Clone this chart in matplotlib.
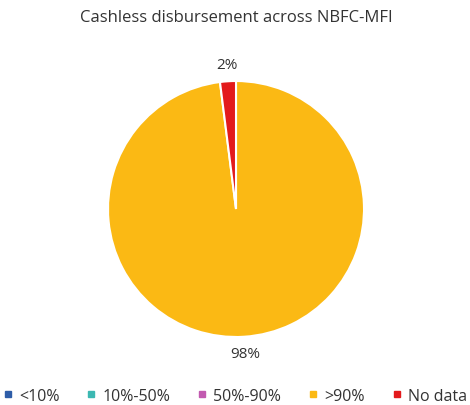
import matplotlib.pyplot as plt
from matplotlib.lines import Line2D

# Data
categories = ['<10%', '10%-50%', '50%-90%', '>90%', 'No data']
shares = [0, 0, 0, 98, 2]
colors = ['#2E5DA8', '#3CB8B2', '#C25AB0', '#FBB914', '#E31A1C']
title = 'Cashless disbursement across NBFC-MFI'

plt.rcParams['font.family'] = ['Open Sans', 'DejaVu Sans']

fig = plt.figure(figsize=(4.7, 4.06), dpi=100)
ax = fig.add_axes([0.2298, 0.1675, 0.5447, 0.6305])

ax.pie(shares, colors=colors, startangle=90, counterclock=False,
       radius=1.0, autopct=lambda p: f'{p:.0f}%' if p > 0 else '',
       pctdistance=1.13, wedgeprops=dict(edgecolor='white', linewidth=1.5),
       textprops=dict(fontsize=11, color='#333333'))
ax.set_xlim(-1, 1)
ax.set_ylim(-1, 1)
ax.set_aspect('equal')

fig.text(0.502, 0.955, title, ha='center', va='center', fontsize=12, color='#333333')

handles = [Line2D([], [], marker='s', linestyle='none', markersize=4.5,
                  markerfacecolor=c, markeredgecolor=c) for c in colors]
fig.legend(handles, categories, loc='center', bbox_to_anchor=(0.5, 0.022), ncol=5,
           frameon=False, fontsize=11.5, handlelength=0.6, handletextpad=0.4,
           columnspacing=1.7, labelcolor='#333333')

fig.savefig('out.png', dpi=100)
